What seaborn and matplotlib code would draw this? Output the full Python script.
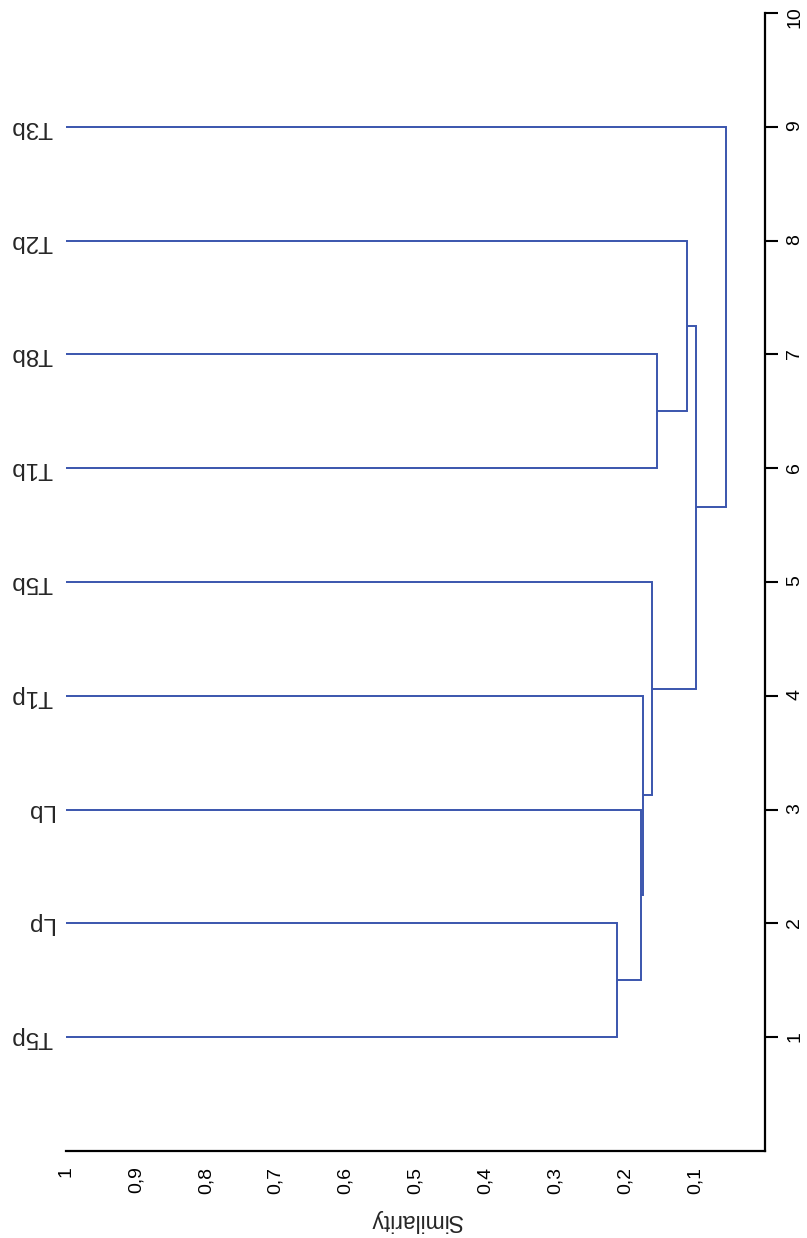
import matplotlib
matplotlib.use("Agg")
import matplotlib.pyplot as plt
import numpy as np
import pandas as pd
import seaborn as sns

# Leaves in display order (position 1 at the bottom)
leaves = ["T5p", "Lp", "Lb", "T1p", "T5b", "T1b", "T8b", "T2b", "T3b"]

# Agglomeration steps: members are leaf names or the index of an earlier step
merge_left = ["T5p", 0, 1, 2, "T1b", 4, 3, 6]
merge_right = ["Lp", "Lb", "T1p", "T5b", "T8b", "T2b", 5, "T3b"]
merge_sim = [0.212, 0.178, 0.175, 0.162, 0.155, 0.111, 0.098, 0.056]

sim_ticks = [1, 0.9, 0.8, 0.7, 0.6, 0.5, 0.4, 0.3, 0.2, 0.1]
sim_tick_labels = ["1", "0,9", "0,8", "0,7", "0,6", "0,5", "0,4", "0,3", "0,2", "0,1"]
pos_ticks = list(range(1, 11))

LINE = "#3a55ad"

sns.set_style("white")
plt.rcParams["font.family"] = ["Liberation Sans", "DejaVu Sans"]

# Build the dendrogram polylines (one "U" per merge)
leaf_pos = {name: i + 1 for i, name in enumerate(leaves)}
node_pos, node_h = [], []


def member(m):
    if isinstance(m, str):
        return leaf_pos[m], 1.0
    return node_pos[m], node_h[m]


rows = []
for k, (a, b, h) in enumerate(zip(merge_left, merge_right, merge_sim)):
    pa, ha = member(a)
    pb, hb = member(b)
    for s, p in [(ha, pa), (h, pa), (h, pb), (hb, pb)]:
        rows.append({"merge": k, "sim": s, "pos": p})
    node_pos.append((pa + pb) / 2)
    node_h.append(h)
segs = pd.DataFrame(rows)

W, H = 807, 1238
fig = plt.figure(figsize=(W / 100, H / 100), dpi=100)
x0, x1 = 66, 765
y_top, y_bot = 13, 1151
ax = fig.add_axes([x0 / W, (H - y_bot) / H, (x1 - x0) / W, (y_bot - y_top) / H])

sns.lineplot(data=segs, x="sim", y="pos", units="merge", estimator=None,
             sort=False, color=LINE, linewidth=1.4, ax=ax, legend=False)
for ln in ax.lines:
    ln.set_solid_joinstyle("miter")
    ln.set_solid_capstyle("butt")

ax.set_xlim(1, 0)
ax.set_ylim(0, 10)

for side in ["left", "top"]:
    ax.spines[side].set_visible(False)
for side in ["bottom", "right"]:
    ax.spines[side].set_color("black")
    ax.spines[side].set_linewidth(1.6)

ax.set_xticks(sim_ticks)
ax.set_xticklabels(sim_tick_labels)
ax.yaxis.tick_right()
ax.set_yticks(pos_ticks)
ax.set_yticklabels([str(t) for t in pos_ticks])

ax.tick_params(axis="x", direction="out", length=7.2, width=1.5, pad=4.0,
               labelrotation=90, labelsize=14, colors="black")
ax.tick_params(axis="y", direction="out", length=9.4, width=1.5, pad=6.0,
               labelrotation=90, labelsize=14, colors="black",
               left=False, right=True)
for lbl in ax.get_xticklabels() + ax.get_yticklabels():
    lbl.set_fontfamily(["Liberation Sans Narrow", "Liberation Sans", "DejaVu Sans"])

ax.set_ylabel("")
ax.set_xlabel("Similarity", fontsize=16.5, rotation=180)
ax.xaxis.set_label_coords(0.5, -0.051)

for name in leaves:
    ax.annotate(name, xy=(1, leaf_pos[name]), xytext=(-9.4, 0),
                textcoords="offset points", rotation=180,
                rotation_mode="anchor", ha="left", va="center",
                fontsize=17.5, annotation_clip=False)

fig.savefig("out.png", dpi=100)
